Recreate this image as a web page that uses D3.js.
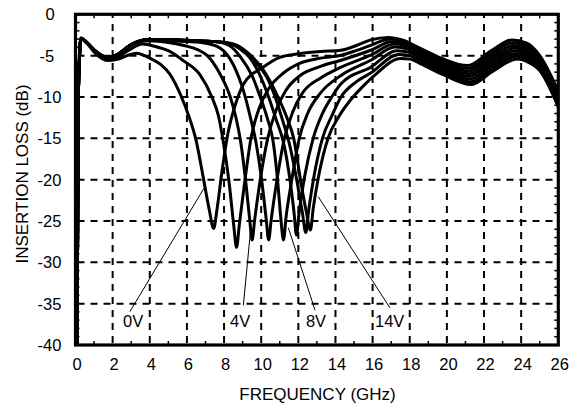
<!DOCTYPE html>
<html>
<head>
<meta charset="utf-8">
<script src="https://cdn.jsdelivr.net/npm/d3@7"></script>
<style>
body { margin: 0; background: #fff; }
text { font-family: "Liberation Sans", Arial, Helvetica, sans-serif; fill: #000; }
</style>
</head>
<body>
<script>
// ----------------------------------- DATA --------------------------------------------
// bias voltages, one curve each : [frequency GHz, insertion loss dB]
var voltages = ['0V', '2V', '4V', '6V', '8V', '10V', '12V', '14V']

var curve0V = [[0.08,-40],[0.16,-9],[0.3,-3.0],[0.6,-3.5],[1.1,-4.8],[1.7,-5.6],[2.3,-5.4],[2.9,-4.9],[3.3,-4.7],
	[4.0,-5.3],[4.6,-6.1],[5.1,-7.3],[5.65,-9.7],[6.1,-12.3],[6.5,-15.3],[6.9,-20],[7.2,-23.6],[7.44,-25.9],
	[7.62,-23.6],[7.9,-18.8],[8.2,-14.5],[8.6,-11],[9.06,-8.4],[10.1,-6.4],[11.0,-5.2],[12.1,-4.75],[13.2,-4.5],
	[14.3,-4.35],[15.1,-3.8],[15.9,-3.1],[16.85,-2.8],[17.6,-3.1],[18.6,-4.15],[19.8,-5.4],[21.1,-6.2],[22.4,-4.4],
	[23.5,-3.1],[24.3,-3.5],[25.0,-5.0],[26,-9.3]]

var curve2V = [[0.08,-40],[0.16,-9],[0.3,-2.9],[0.6,-3.4],[1.1,-4.6],[1.7,-5.4],[2.3,-5.1],[2.9,-4.3],[3.6,-3.6],
	[4.3,-3.9],[5.0,-4.4],[5.8,-5.6],[6.7,-7.3],[7.36,-10.1],[7.7,-12.3],[7.95,-15.3],[8.28,-20.5],[8.52,-25.5],
	[8.67,-28.2],[8.82,-25.5],[9.1,-20.5],[9.45,-15],[9.9,-11.3],[10.4,-9.0],[11.2,-7.1],[12.1,-5.9],[13.2,-5.3],
	[14.3,-4.95],[15.1,-4.4],[15.9,-3.75],[16.95,-3.0],[17.7,-3.3],[18.6,-4.41],[19.8,-5.67],[21.13,-6.53],[22.4,-4.77],
	[23.54,-3.43],[24.3,-3.81],[25.0,-5.26],[26,-9.57]]

var curve4V = [[0.08,-40],[0.16,-9],[0.3,-2.9],[0.6,-3.4],[1.1,-4.5],[1.7,-5.25],[2.3,-4.9],[2.9,-3.9],[3.5,-3.3],
	[4.0,-3.2],[5.0,-3.4],[5.9,-3.8],[6.6,-4.3],[7.1,-5.0],[7.8,-7.3],[8.35,-10.1],[8.62,-12.3],[8.9,-15.5],
	[9.18,-20.5],[9.38,-24.8],[9.51,-27.3],[9.65,-24.8],[9.95,-20],[10.35,-15],[10.8,-11.6],[11.3,-9.3],[12.1,-7.4],
	[13.2,-6.3],[14.3,-5.56],[15.9,-4.35],[17.05,-3.3],[17.8,-3.6],[18.6,-4.68],[19.8,-5.94],[21.16,-6.86],[22.4,-5.14],
	[23.59,-3.76],[24.3,-4.13],[25.0,-5.51],[26,-9.84]]

var curve6V = [[0.08,-40],[0.16,-9],[0.3,-2.9],[0.6,-3.4],[1.1,-4.5],[1.7,-5.2],[2.3,-4.85],[2.9,-3.8],[3.5,-3.2],
	[4.0,-3.1],[5.0,-3.2],[6.0,-3.3],[7.0,-3.5],[7.8,-4.1],[8.5,-6.1],[9.05,-9.3],[9.4,-12.3],[9.72,-15.5],
	[10.05,-20.5],[10.27,-24.8],[10.4,-27.3],[10.54,-24.8],[10.85,-20],[11.25,-15],[11.7,-11.8],[12.2,-9.6],[13.2,-7.7],
	[14.3,-6.4],[15.9,-4.95],[17.15,-3.6],[17.9,-3.9],[18.6,-4.94],[19.8,-6.21],[21.19,-7.19],[22.4,-5.51],
	[23.63,-4.09],[24.3,-4.44],[25.0,-5.77],[26,-10.11]]

var curve8V = [[0.08,-40],[0.16,-9],[0.3,-2.9],[0.6,-3.4],[1.1,-4.5],[1.7,-5.2],[2.3,-4.8],[2.9,-3.8],[3.5,-3.2],
	[4.0,-3.05],[5.0,-3.1],[6.0,-3.2],[7.5,-3.3],[8.3,-3.8],[8.9,-5.2],[9.5,-7.4],[9.95,-10],[10.32,-12.5],
	[10.65,-15.5],[10.9,-20.5],[11.05,-24.5],[11.2,-27.3],[11.34,-24.5],[11.65,-20],[12.05,-15],[12.5,-12],[13.2,-9.5],
	[14.3,-7.4],[15.9,-5.56],[17.2,-3.95],[17.9,-4.2],[18.6,-5.21],[19.8,-6.49],[21.21,-7.51],[22.4,-5.89],
	[23.67,-4.41],[24.3,-4.76],[25.0,-6.03],[26,-10.39]]

var curve10V = [[0.08,-40],[0.16,-9],[0.3,-2.9],[0.6,-3.4],[1.1,-4.5],[1.7,-5.2],[2.3,-4.8],[2.9,-3.8],[3.5,-3.2],
	[4.0,-3.05],[5.0,-3.05],[6.0,-3.15],[7.5,-3.3],[8.2,-3.5],[8.8,-4.0],[9.3,-5.0],[9.9,-7.2],[10.4,-10],
	[10.8,-12.7],[11.2,-15.5],[11.58,-20.5],[11.77,-24],[11.9,-26.7],[12.04,-24],[12.35,-19.5],[12.8,-15],[13.3,-12],
	[13.8,-10],[14.3,-8.4],[15.9,-6.4],[17.3,-4.4],[18.0,-4.6],[18.6,-5.47],[19.8,-6.76],[21.24,-7.84],[22.4,-6.26],
	[23.71,-4.74],[24.3,-5.07],[25.0,-6.29],[26,-10.66]]

var curve12V = [[0.08,-40],[0.16,-9],[0.3,-2.9],[0.6,-3.4],[1.1,-4.5],[1.7,-5.2],[2.3,-4.8],[2.9,-3.8],[3.5,-3.2],
	[4.0,-3.05],[5.0,-3.05],[6.0,-3.15],[7.5,-3.3],[8.4,-3.6],[9.1,-4.6],[9.7,-5.8],[10.3,-7.6],[10.8,-10.3],
	[11.15,-12.8],[11.5,-15.5],[11.95,-20.5],[12.22,-24],[12.4,-26.4],[12.54,-24],[12.85,-19.5],[13.3,-15],[13.8,-12.3],
	[14.3,-10],[15.1,-8.2],[15.9,-7.1],[17.4,-4.85],[18.0,-5.0],[18.6,-5.74],[19.8,-7.03],[21.27,-8.17],[22.4,-6.63],
	[23.76,-5.07],[24.3,-5.39],[25.0,-6.54],[26,-10.93]]

var curve14V = [[0.08,-40],[0.16,-9],[0.3,-2.9],[0.6,-3.4],[1.1,-4.5],[1.7,-5.2],[2.3,-4.8],[2.9,-3.8],[3.5,-3.2],
	[4.0,-3.05],[5.0,-3.05],[6.0,-3.15],[7.5,-3.3],[8.5,-3.6],[9.3,-4.7],[10.1,-6.7],[10.9,-10.0],[11.4,-12.6],
	[11.75,-15],[12.15,-20.5],[12.44,-24],[12.65,-26.1],[12.8,-23.5],[13.1,-19.5],[13.6,-15],[14.2,-12.3],[14.8,-10.4],
	[15.4,-8.9],[16.2,-7.2],[17.5,-5.35],[18.0,-5.4],[18.6,-6.0],[19.8,-7.3],[21.3,-8.5],[22.4,-7.0],
	[23.8,-5.4],[24.3,-5.7],[25.0,-6.8],[26,-11.2]]

var curves = [curve0V, curve2V, curve4V, curve6V, curve8V, curve10V, curve12V, curve14V]

var xTicks = [0, 2, 4, 6, 8, 10, 12, 14, 16, 18, 20, 22, 24, 26]
var yTicks = [0, -5, -10, -15, -20, -25, -30, -35, -40]

// callout labels: text, label spot, leader line start / end (in GHz, dB)
var callouts = [
	{text: '0V',  at: [2.56, -37.8],  from: [2.93, -35.96], to: [6.97, -20.85]},
	{text: '4V',  at: [8.32, -37.8],  from: [9.04, -35.2],  to: [9.42, -26.3]},
	{text: '8V',  at: [12.41, -37.8], from: [12.9, -35.8],  to: [11.46, -25.8]},
	{text: '14V', at: [16.13, -37.8], from: [16.93, -35.5], to: [13.07, -22.05]}
]

// ----------------------------------- SVG and SCALES --------------------------------------------
var width = 569
var height = 406

var svg = d3.select('body')
			.append('svg')
			.attr('width', width)
			.attr('height', height)

svg.append('rect')
	.attr('width', '100%')
	.attr('height', '100%')
	.attr('fill', '#fff')

var x = d3.scaleLinear().domain([0, 26]).range([75.5, 558.3])
var y = d3.scaleLinear().domain([0, -40]).range([14.3, 345])

var defs = svg.append('defs')
defs.append('clipPath').attr('id', 'plot')
	.append('rect')
	.attr('x', x(0)).attr('y', y(0))
	.attr('width', x(26) - x(0)).attr('height', y(-40) - y(0))

// ----------------------------------- GRID --------------------------------------------
var grid = svg.append('g')
	.attr('stroke', '#000')
	.attr('stroke-width', 2)
	.attr('stroke-dasharray', '7,6')

grid.selectAll('.vgrid')
	.data(xTicks.slice(1, -1))
	.enter()
	.append('line')
	.attr('x1', d => x(d)).attr('x2', d => x(d))
	.attr('y1', y(-40) - 2).attr('y2', y(0))

grid.selectAll('.hgrid')
	.data(yTicks.slice(1, -1))
	.enter()
	.append('line')
	.attr('x1', x(0) + 2).attr('x2', x(26))
	.attr('y1', d => y(d)).attr('y2', d => y(d))

// minor ticks, inside on all four sides
var minorX = d3.range(1, 26, 2)
var minorY = d3.range(-1, -40, -1).filter(d => d % 5 !== 0)
var minor = svg.append('g').attr('stroke', '#000').attr('stroke-width', 1.5)

minorX.forEach(function(d){
	minor.append('line').attr('x1', x(d)).attr('x2', x(d)).attr('y1', y(-40)).attr('y2', y(-40) - 4)
	minor.append('line').attr('x1', x(d)).attr('x2', x(d)).attr('y1', y(0)).attr('y2', y(0) + 4)
})
minorY.forEach(function(d){
	minor.append('line').attr('x1', x(0)).attr('x2', x(0) + 4).attr('y1', y(d)).attr('y2', y(d))
	minor.append('line').attr('x1', x(26)).attr('x2', x(26) - 4).attr('y1', y(d)).attr('y2', y(d))
})

// ----------------------------------- CURVES --------------------------------------------
var line = d3.line()
	.x(d => x(d[0]))
	.y(d => y(d[1]))
	.curve(d3.curveMonotoneX)

svg.append('g')
	.attr('clip-path', 'url(#plot)')
	.selectAll('path')
	.data(curves)
	.enter()
	.append('path')
	.attr('d', line)
	.attr('fill', 'none')
	.attr('stroke', '#000')
	.attr('stroke-width', 3)
	.attr('stroke-linejoin', 'round')

// ----------------------------------- FRAME and AXES --------------------------------------------
svg.append('rect')
	.attr('x', x(0)).attr('y', y(0))
	.attr('width', x(26) - x(0)).attr('height', y(-40) - y(0))
	.attr('fill', 'none')
	.attr('stroke', '#000')
	.attr('stroke-width', 3.2)

svg.selectAll('.xlab')
	.data(xTicks)
	.enter()
	.append('text')
	.attr('x', d => x(d) + 1.5)
	.attr('y', 370)
	.attr('text-anchor', 'middle')
	.attr('font-size', 16.5)
	.text(d => d)

// labels are padded like the original: the unit digit of 0 and -5 line up
svg.selectAll('.ylab')
	.data(yTicks)
	.enter()
	.append('text')
	.attr('x', d => d === 0 ? 45.5 : (d > -10 ? 39.5 : 37.5))
	.attr('y', d => y(d))
	.attr('dy', '0.36em')
	.attr('font-size', 16.5)
	.text(d => d)

svg.append('text')
	.attr('x', 317.5)
	.attr('y', 400)
	.attr('text-anchor', 'middle')
	.attr('font-size', 17)
	.text('FREQUENCY (GHz)')

svg.append('text')
	.attr('transform', 'translate(27.5,174) rotate(-90)')
	.attr('text-anchor', 'middle')
	.attr('font-size', 17)
	.text('INSERTION LOSS (dB)')

// ----------------------------------- CALLOUTS --------------------------------------------
svg.selectAll('.leader')
	.data(callouts)
	.enter()
	.append('line')
	.attr('x1', d => x(d.from[0])).attr('y1', d => y(d.from[1]))
	.attr('x2', d => x(d.to[0])).attr('y2', d => y(d.to[1]))
	.attr('stroke', '#000')
	.attr('stroke-width', 1)

svg.selectAll('.callout')
	.data(callouts)
	.enter()
	.append('text')
	.attr('x', d => x(d.at[0]))
	.attr('y', d => y(d.at[1]))
	.attr('font-size', 16.5)
	.text(d => d.text)
</script>
</body>
</html>
